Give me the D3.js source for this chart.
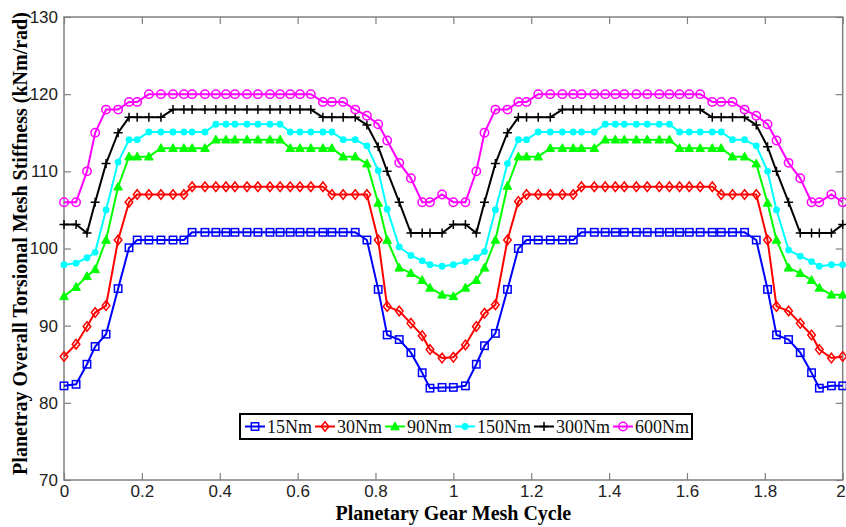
<!DOCTYPE html>
<html>
<head>
<meta charset="utf-8">
<script src="https://cdn.jsdelivr.net/npm/d3@7"></script>
<style>
  body { margin: 0; background: #fff; }
  svg { display: block; }
</style>
</head>
<body>
<script>
// mesh cycle positions of the computed points (two cycles)
const meshCycle = [
  0, 0.031, 0.059, 0.080, 0.108, 0.139, 0.167, 0.188, 0.218, 0.249, 0.280, 0.308, 0.329,
  0.362, 0.390, 0.416, 0.439, 0.470, 0.498, 0.529, 0.555, 0.581, 0.606, 0.634, 0.665,
  0.688, 0.717, 0.748, 0.778, 0.807, 0.830, 0.861, 0.891, 0.920, 0.940, 0.971, 1.000,
  1.031, 1.059, 1.080, 1.108, 1.139, 1.167, 1.188, 1.218, 1.249, 1.280, 1.308, 1.329,
  1.362, 1.390, 1.416, 1.439, 1.470, 1.498, 1.529, 1.555, 1.581, 1.606, 1.634, 1.665,
  1.688, 1.717, 1.748, 1.778, 1.807, 1.830, 1.861, 1.891, 1.920, 1.940, 1.971, 2.000
];

// stiffness per load (kNm/rad)
const s15 = [
  82.2, 82.4, 85.0, 87.3, 88.9, 94.8, 100.1, 101.1, 101.1, 101.1, 101.1, 101.1,
  102.1, 102.1, 102.1, 102.1, 102.1, 102.1, 102.1, 102.1, 102.1, 102.1, 102.1, 102.1, 102.1, 102.1, 102.1, 102.1,
  101.1, 94.7, 88.8, 88.2, 86.5, 83.9, 81.9, 82.0, 82.0,
  82.2, 85.0, 87.4, 89.0, 94.7, 100.0, 101.1, 101.1, 101.1, 101.1, 101.1,
  102.1, 102.1, 102.1, 102.1, 102.1, 102.1, 102.1, 102.1, 102.1, 102.1, 102.1, 102.1, 102.1, 102.1, 102.1, 102.1,
  101.1, 94.7, 88.8, 88.2, 86.5, 83.9, 81.9, 82.2, 82.2
];
const s30 = [
  86.0, 87.6, 89.9, 91.7, 92.6, 101.1, 106.0, 107, 107, 107, 107, 107,
  108, 108, 108, 108, 108, 108, 108, 108, 108, 108, 108, 108, 108,
  107, 107, 107, 107, 101.1, 92.5, 91.9, 90.3, 88.7, 86.9, 85.8, 85.9,
  87.5, 89.9, 91.6, 92.7, 101.1, 106.1, 107, 107, 107, 107, 107,
  108, 108, 108, 108, 108, 108, 108, 108, 108, 108, 108, 108, 108,
  107, 107, 107, 107, 101.1, 92.5, 91.9, 90.3, 88.8, 86.9, 85.8, 86.0
];
const s90 = [
  93.8, 95.0, 96.4, 97.3, 101.1, 108.0, 111.9, 111.9, 111.9, 113, 113, 113, 113, 113,
  114.1, 114.1, 114.1, 114.1, 114.1, 114.1, 114.1,
  113, 113, 113, 113, 113, 111.9, 111.9, 111.0, 105.9, 101.1, 97.5, 96.8, 95.9, 94.9, 94.0, 93.8,
  94.9, 95.9, 97.5, 101.1, 108.1, 111.9, 111.9, 111.9, 113, 113, 113, 113, 113,
  114.1, 114.1, 114.1, 114.1, 114.1, 114.1, 114.1,
  113, 113, 113, 113, 113, 111.9, 111.9, 111.0, 105.9, 101.1, 97.5, 96.8, 95.9, 94.9, 94.0, 94.0
];
const s150 = [
  97.9, 98.1, 98.8, 99.5, 105.0, 111.2, 114.1, 114.1, 115.1, 115.1, 115.1, 115.1, 115.1, 115.1,
  116.1, 116.1, 116.1, 116.1, 116.1, 116.1, 116.1,
  115.1, 115.1, 115.1, 115.1, 115.1, 114.1, 114.1, 113.3, 110.1, 105.1, 100.2, 99.1, 98.4, 97.9, 97.7, 97.9,
  98.3, 98.8, 99.6, 105.0, 111.0, 114.1, 114.1, 115.1, 115.1, 115.1, 115.1, 115.1, 115.1,
  116.1, 116.1, 116.1, 116.1, 116.1, 116.1, 116.1,
  115.1, 115.1, 115.1, 115.1, 115.1, 114.1, 114.1, 113.3, 110.0, 105.0, 99.8, 99.0, 98.3, 97.7, 97.9, 97.9
];
const s300 = [
  103.1, 103.1, 102.0, 106.0, 111.0, 115.0, 117, 117, 117, 117,
  118, 118, 118, 118, 118, 118, 118, 118, 118, 118, 118, 118, 118, 118,
  117, 117, 117, 117, 116.0, 113.2, 110.0, 106.0, 102, 102, 102, 102, 103.1,
  103.1, 102.0, 106.0, 111.0, 115.0, 117, 117, 117, 117,
  118, 118, 118, 118, 118, 118, 118, 118, 118, 118, 118, 118, 118, 118,
  117, 117, 117, 117, 116.0, 113.2, 110.0, 106.0, 102, 102, 102, 102, 103.1
];
const s600 = [
  106, 106, 110, 115, 118, 118, 119, 119,
  120, 120, 120, 120, 120, 120, 120, 120, 120, 120, 120, 120, 120, 120, 120, 120,
  119, 119, 119, 118, 117.2, 116.1, 114.0, 111.1, 109.1, 106.0, 106.0, 107.0, 106.0,
  106, 110, 115, 118, 118, 119, 119,
  120, 120, 120, 120, 120, 120, 120, 120, 120, 120, 120, 120, 120, 120, 120, 120,
  119, 119, 119, 118, 117.2, 116.1, 114.0, 111.1, 109.1, 106.0, 106.0, 107.0, 106.0
];

const seriesNames = ['15Nm', '30Nm', '90Nm', '150Nm', '300Nm', '600Nm'];
const seriesColors = ['#0000ff', '#ff0000', '#00ff00', '#00ffff', '#000000', '#ff00ff'];
const seriesMarkers = ['square', 'diamond', 'triangle', 'dot', 'plus', 'circle'];
const xTicks = [0, 0.2, 0.4, 0.6, 0.8, 1, 1.2, 1.4, 1.6, 1.8, 2];
const yTicks = [70, 80, 90, 100, 110, 120, 130];

let allSeries = [s15, s30, s90, s150, s300, s600];
allSeries.forEach((s, i) => {
  if (s.length !== meshCycle.length) throw new Error(seriesNames[i] + ' has ' + s.length + ' points');
});

// canvas
let width = 846;
let height = 527;
let margin = {left: 64, right: 3.3, top: 17, bottom: 47};
let plotW = width - margin.left - margin.right;
let plotH = height - margin.top - margin.bottom;

let svg = d3.select('body').append('svg')
  .attr('width', width)
  .attr('height', height);

let xScale = d3.scaleLinear().domain([0, 2]).range([margin.left, margin.left + plotW]);
let yScale = d3.scaleLinear().domain([70, 130]).range([margin.top + plotH, margin.top]);

let axisColor = '#808080';
let labelFont = '"Liberation Sans", Arial, sans-serif';
let titleFont = '"Liberation Serif", "Times New Roman", serif';

// axes, ticks pointing inwards like matlab
let styleAxis = (g) => {
  g.select('.domain').remove();
  g.selectAll('.tick line').attr('stroke', axisColor).attr('stroke-width', 1.2);
  g.selectAll('.tick text').attr('fill', '#222');
  g.attr('font-family', labelFont).attr('font-size', 17);
};

let xAxisG = svg.append('g')
  .attr('transform', 'translate(0,' + (margin.top + plotH) + ')')
  .call(d3.axisBottom(xScale).tickValues(xTicks).tickSize(-7).tickPadding(5).tickFormat(d => String(d)))
  .call(styleAxis);
// last label sits on the canvas edge, keep it inside
xAxisG.selectAll('.tick text').filter(d => d === 2).attr('text-anchor', 'end').attr('x', 2.5);

svg.append('g')
  .attr('transform', 'translate(0,' + margin.top + ')')
  .call(d3.axisTop(xScale).tickValues(xTicks).tickSize(-7).tickFormat(''))
  .call(styleAxis);
svg.append('g')
  .attr('transform', 'translate(' + margin.left + ',0)')
  .call(d3.axisLeft(yScale).tickValues(yTicks).tickSize(-7).tickPadding(6))
  .call(styleAxis);
svg.append('g')
  .attr('transform', 'translate(' + (margin.left + plotW) + ',0)')
  .call(d3.axisRight(yScale).tickValues(yTicks).tickSize(-7).tickFormat(''))
  .call(styleAxis);

svg.append('rect')
  .attr('x', margin.left)
  .attr('y', margin.top)
  .attr('width', plotW)
  .attr('height', plotH)
  .attr('fill', 'none')
  .attr('stroke', axisColor)
  .attr('stroke-width', 1.5);

// axis titles
svg.append('text')
  .attr('x', xScale(1))
  .attr('y', 520)
  .attr('text-anchor', 'middle')
  .attr('font-family', titleFont)
  .attr('font-weight', 'bold')
  .attr('font-size', 20)
  .text('Planetary Gear Mesh Cycle');
svg.append('text')
  .attr('transform', 'translate(27,' + 243.5 + ') rotate(-90)')
  .attr('text-anchor', 'middle')
  .attr('font-family', titleFont)
  .attr('font-weight', 'bold')
  .attr('font-size', 20)
  .text('Planetray Overall Torsional Mesh Stiffness (kNm/rad)');

// markers
let drawMarker = (sel, type, color) => {
  if (type === 'square') {
    sel.append('rect').attr('x', -3.7).attr('y', -3.7).attr('width', 7.4).attr('height', 7.4)
      .attr('fill', 'none').attr('stroke', color).attr('stroke-width', 1.5);
  } else if (type === 'diamond') {
    sel.append('path').attr('d', 'M0,-4.8L3.8,0L0,4.8L-3.8,0Z')
      .attr('fill', 'none').attr('stroke', color).attr('stroke-width', 1.5);
  } else if (type === 'triangle') {
    sel.append('path').attr('d', 'M0,-4.5L4.3,3.3L-4.3,3.3Z')
      .attr('fill', color).attr('stroke', color).attr('stroke-width', 1);
  } else if (type === 'dot') {
    sel.append('circle').attr('r', 3.4).attr('fill', color);
  } else if (type === 'plus') {
    sel.append('path').attr('d', 'M-4.5,0H4.5M0,-4.5V4.5')
      .attr('fill', 'none').attr('stroke', color).attr('stroke-width', 1.5);
  } else {
    sel.append('circle').attr('r', 4.2)
      .attr('fill', 'none').attr('stroke', color).attr('stroke-width', 1.5);
  }
};

let line = d3.line()
  .x((d, i) => xScale(meshCycle[i]))
  .y(d => yScale(d));

allSeries.forEach((s, k) => {
  let g = svg.append('g').attr('class', 'series');
  g.append('path')
    .datum(s)
    .attr('d', line)
    .attr('fill', 'none')
    .attr('stroke', seriesColors[k])
    .attr('stroke-width', 2);
  g.selectAll('g.pt')
    .data(s)
    .enter()
    .append('g')
    .attr('class', 'pt')
    .attr('transform', (d, i) => 'translate(' + xScale(meshCycle[i]) + ',' + yScale(d) + ')')
    .each(function () { drawMarker(d3.select(this), seriesMarkers[k], seriesColors[k]); });
});

// legend
let legendX = 240;
let legendY = 414;
let legend = svg.append('g');
let legendBox = legend.append('rect')
  .attr('x', legendX)
  .attr('y', legendY)
  .attr('height', 25)
  .attr('fill', '#fff')
  .attr('stroke', '#000')
  .attr('stroke-width', 2);

let cursor = legendX + 5;
seriesNames.forEach((name, k) => {
  let item = legend.append('g').attr('transform', 'translate(' + cursor + ',' + (legendY + 12.5) + ')');
  item.append('line').attr('x1', 0).attr('x2', 20).attr('y1', 0).attr('y2', 0)
    .attr('stroke', seriesColors[k]).attr('stroke-width', 2);
  drawMarker(item.append('g').attr('transform', 'translate(10,0)'), seriesMarkers[k], seriesColors[k]);
  let t = item.append('text')
    .attr('x', 22)
    .attr('y', 6)
    .attr('font-family', titleFont)
    .attr('font-size', 18)
    .attr('fill', '#111')
    .text(name);
  cursor += 22 + t.node().getComputedTextLength() + 3;
});
legendBox.attr('width', cursor - legendX);
</script>
</body>
</html>
